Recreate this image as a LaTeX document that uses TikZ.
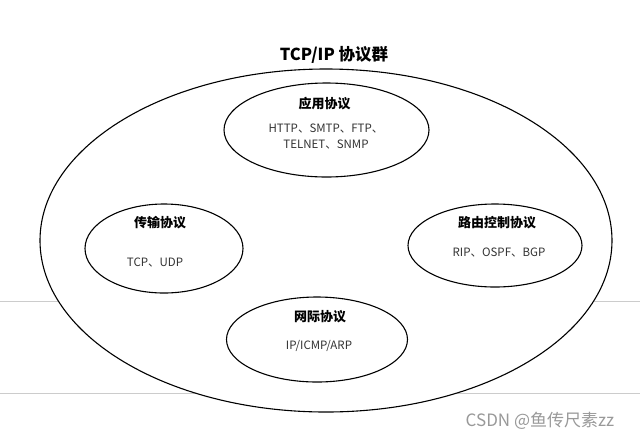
\documentclass[tikz,border=0pt]{standalone}
\usepackage{fontspec}
\setmainfont{Noto Sans CJK SC}
\usetikzlibrary{shapes.geometric}

\begin{document}
\begin{tikzpicture}[x=1pt,y=-1pt,
  proto/.style={ellipse, draw, line width=1.1pt, fill=white, inner sep=0pt},
  head/.style={font=\fontsize{13}{15}\selectfont\bfseries},
  body/.style={font=\fontsize{11.5}{16}\selectfont, align=center, text=black!80}]
\useasboundingbox[fill=white] (0,0) rectangle (640,440);
% page rules behind the picture
\coordinate (r1l) at (0,301); \coordinate (r1r) at (640,301);
\coordinate (r2l) at (0,393); \coordinate (r2r) at (640,393);
\draw[black!20, line width=1pt] (r1l)--(r1r) (r2l)--(r2r);
% outer group
\node[proto, minimum width=572pt, minimum height=343pt] (suite) at (326,240.5) {};
\node[font=\fontsize{16.5}{18}\selectfont\bfseries] (title) at (334,55) {TCP/IP 协议群};
% protocol families
\node[proto, minimum width=205pt, minimum height=94pt] (app) at (326.5,130) {};
\node[head] (apphead) at (324.5,104) {应用协议};
\node[body] (apptext) at (326,137) {HTTP、SMTP、FTP、\\TELNET、SNMP};
\node[proto, minimum width=158pt, minimum height=89pt] (trans) at (164,248.5) {};
\node[head] (transhead) at (160,223) {传输协议};
\node[body] (transtext) at (155,263) {TCP、UDP};
\node[proto, minimum width=174pt, minimum height=83pt] (route) at (495,245.5) {};
\node[head] (routehead) at (497,223) {路由控制协议};
\node[body] (routetext) at (499,253) {RIP、OSPF、BGP};
\node[proto, minimum width=181pt, minimum height=85pt] (net) at (317,339.5) {};
\node[head] (nethead) at (320,317) {网际协议};
\node[body] (nettext) at (319,346) {IP/ICMP/ARP};
% watermark
\node[font=\fontsize{17}{19}\selectfont, text=black!40] (mark) at (540,421) {CSDN @鱼传尺素zz};
\end{tikzpicture}
\end{document}
